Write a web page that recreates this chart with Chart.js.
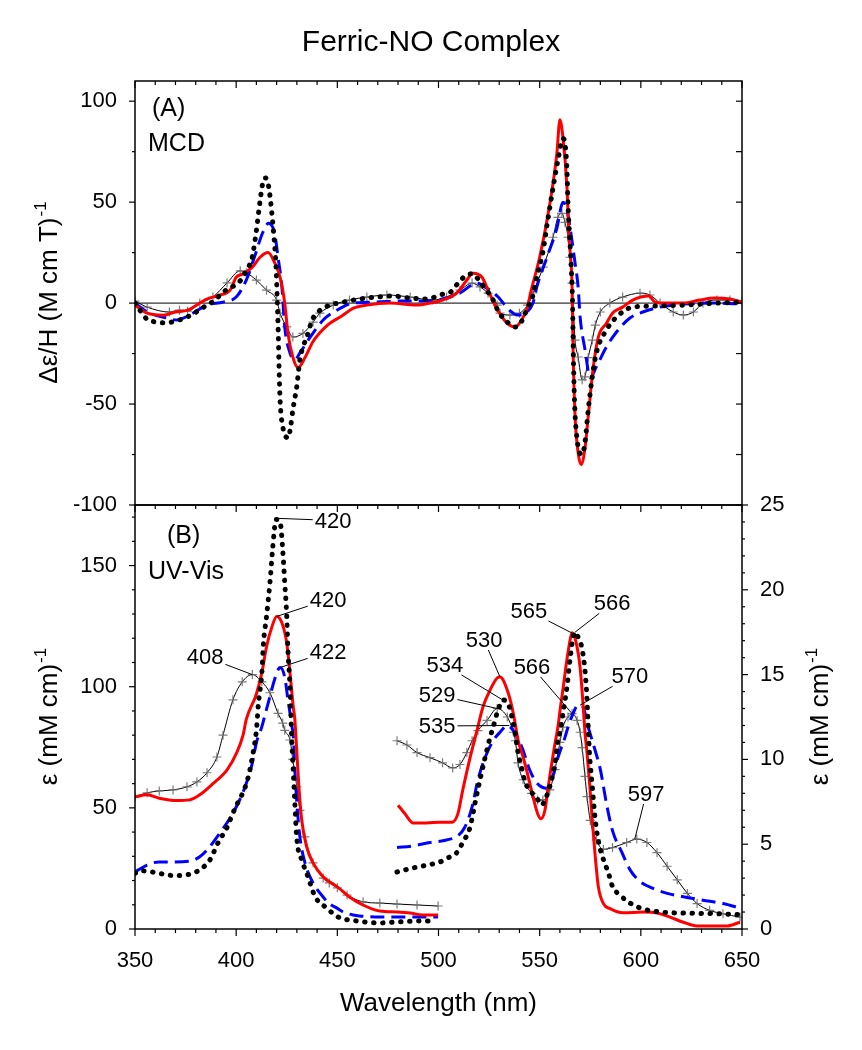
<!DOCTYPE html>
<html>
<head>
<meta charset="utf-8">
<script src="https://cdn.jsdelivr.net/npm/chart.js@4.4.1/dist/chart.umd.min.js"></script>
<style>
  html, body { margin: 0; padding: 0; background: #fff; }
  #wrap { position: relative; width: 862px; height: 1050px; }
  #wrap canvas { position: absolute; left: 0; top: 0; }
</style>
</head>
<body>
<div id="wrap">
  <canvas id="mcd" width="862" height="1050"></canvas>
  <canvas id="uv" width="862" height="1050"></canvas>
</div>
<script>
// ---- data: [wavelength nm, value] ----
// (A) MCD, Δε/H
const mcdDots = [[350,0],[356,-8],[361,-9.4],[365,-9.8],[370,-8.9],[376,-6.8],[385.5,-1],[389.5,1.5],[393.5,5.4],[398,8],[402,11],[405,16],[408,23],[410,36],[412,52],[413.5,61],[414.5,62],[416,58],[417.5,46],[418.4,36],[419.7,18],[420.3,1.5],[420.8,-15],[421.2,-32],[421.7,-48],[423,-61],[425.8,-66.7],[426.8,-62],[428,-53],[430,-41],[431.5,-28],[433,-21.7],[435,-16.7],[437.5,-8.4],[440.5,-4.4],[444,-2],[448,-0.5],[453,0.5],[461,2],[469.5,3],[477.5,3.5],[486,2.5],[494,2],[502,4.4],[506,5.5],[509.6,9.8],[514,14],[517,14.5],[520.5,10.5],[524,6],[527,1.5],[529.5,-4],[534,-9.4],[538,-11.8],[542,-7.4],[544,-2],[546,1.5],[548.6,13],[551.7,26],[554,41],[556.6,57],[559,70.6],[561.5,81.5],[562.5,79],[563.5,65.7],[564,49],[565,29.6],[566,8],[566.3,-2],[566.6,-23],[567.2,-48],[568.5,-67.6],[571,-75],[572.4,-69],[574,-53],[576,-36.5],[578,-24.7],[583,-13.3],[588,-6.9],[596,-2],[606,-1.5],[621,-1],[637.6,0],[650,0.5]]
const mcdRed = [[350,-1],[356,-5],[364,-6],[370,-4.4],[376,-3.5],[385.5,2],[392,4],[397,6.4],[400,12.8],[403,14.3],[408,17.8],[411.8,22.7],[415.8,25],[419,20],[421.7,12.8],[424,0],[425.6,-15],[428,-26.7],[430.6,-32],[434,-27],[438,-19],[445,-11],[452,-6.5],[458,-2.5],[464.6,-1],[476,0],[489,-1],[495.8,0],[502,1.5],[509,4.9],[514,11.4],[517,14.8],[521.5,12.8],[524.5,6.4],[529,-3],[534,-10],[538,-11.8],[541,-8.4],[544,-2],[545.5,5],[550,22.7],[555,49],[558.5,74],[560,90.8],[561.5,82],[563.5,57],[564.5,32.6],[566,8],[566.5,-23],[567.5,-56],[569,-74],[570.5,-80],[572.5,-71],[574,-56],[576.5,-31.6],[579,-16.8],[583,-10],[586,-5],[591,-2],[596,1.5],[600,3],[604,3.5],[607,0.5],[611,0],[621,0],[629,1.5],[636.6,2.5],[644,2],[650,0.5]]
const mcdBlue = [[350,0],[356,-4.4],[365.8,-7.4],[370.7,-8.4],[377,-5.9],[385.6,-1],[393.5,0.5],[400,3],[405,11.4],[409,22.7],[413,34.6],[416,39.5],[419,34.6],[420.7,22.7],[422.6,8],[424,-11.8],[426.6,-24.7],[429,-28],[431.5,-24.7],[435.6,-18.3],[443,-8.4],[449.8,-3.5],[457.7,0],[469.6,0.5],[481,1],[492,1],[502,2],[510.6,5],[516.5,9],[519,10],[522,8.5],[525.5,6.4],[529.5,3],[532,0],[535,-3.5],[539,-5.9],[543.7,-4.4],[546.7,0],[548.6,8],[553.6,22.7],[558.6,37.5],[561.5,50],[563.5,46],[565,37.5],[567.5,19.8],[569,8],[570,-6.9],[572.4,-23],[575,-37],[578,-31.6],[583,-21.7],[588,-14.3],[594.6,-7.4],[601,-4.4],[609.5,-2],[621,-0.5],[637.6,0],[650,-0.5]]
const mcdGray = [[350,1],[356,-2],[367,-4.4],[372,-3.5],[376,-4],[382,0],[388.5,3],[395.5,10],[402,16],[405,15],[410,11.4],[415,6.4],[420,1.5],[421.7,-5],[425,-11.8],[428,-16.8],[433,-15],[438,-9.4],[441.4,-5],[448,-1],[456,1.5],[464.6,3],[474.5,4],[486,3],[497,1.5],[504,3],[510.6,6.4],[516.6,9.9],[520.5,8],[524.5,4.9],[529,-1],[530.4,-5],[535.3,-5.9],[540,-5],[544,-1],[546.7,5],[551.7,17.8],[556.6,32.6],[559,42.5],[561,44.4],[562.5,40],[564,32.6],[565,22.7],[566,9.9],[567.5,-18.3],[569,-26.7],[571,-38],[572.4,-36.5],[574,-27],[576,-18.3],[577.5,-10.9],[580,-4.4],[584.7,0],[591,3],[599.6,4.9],[604.5,4],[609.5,0],[616,-4.4],[621,-5.9],[626,-4.4],[630.7,0],[637.6,1.5],[644,1.5],[650,0.5]]

// (B) UV-Vis, Soret region (left axis)
const uvDotsSoret = [[350,23],[354,24],[358,23.6],[362,23],[366,22.3],[370.6,22],[374.7,22.3],[378.7,23],[383,25],[387,28.5],[391,35.5],[395.5,42],[398.5,48],[401,52.5],[403.5,56.6],[406,62.8],[408,71],[410,82],[411,93],[412.7,105.8],[413.5,118],[415,129],[416.7,143],[418,156.6],[419.7,169],[421.7,168],[423,156.6],[424,143],[425,129],[425.6,115],[426.6,100],[427.4,79.5],[428.2,65.7],[429,52],[429.9,38],[432.4,28.5],[434.9,23],[439,13.4],[444.7,8.7],[450.3,5],[459.7,3.3],[471,2.5],[479.5,2.9],[492,3.3],[497,3.3]]
const uvRedSoret = [[350,54.5],[356,55.4],[362,54],[370.6,53],[377,53.3],[382,55.4],[388.5,60],[395.5,65.7],[400.4,73],[403.4,80],[405,86.5],[410,97],[412.7,105.8],[415,116.5],[417.7,124.8],[420,129],[422.6,126.4],[425,118],[426.6,105.8],[428.2,91.8],[429,86.4],[430,72.7],[431,58.7],[432.4,45],[434.8,34],[438,27.3],[443,21.5],[450,17.4],[456,13.2],[462.7,9.9],[471,7.4],[479.5,7],[486,6.6],[492,5.8],[499.8,5.8]]
const uvBlueSoret = [[350,23.6],[356,26.4],[362,27.7],[368.8,27.7],[377,28],[382,29.8],[387,34],[392,39.7],[397,45.8],[401,52],[404.4,58.7],[408,68.6],[410,76.9],[412.7,83.5],[414,87.6],[416.7,96],[419,103],[421.7,107.9],[424,104],[425.6,94.6],[427.6,83.5],[428.3,79],[429,65.7],[430,52],[431.5,38],[434,27.3],[438,19],[443,13.2],[446,10.5],[450,8.5],[453,7],[457.8,5.8],[461,5.4],[471,5],[482.5,5],[491,5],[499.8,5]]
const uvGraySoret = [[350,54.5],[356,56.2],[362,57],[368.8,57.4],[375.7,58.7],[380.6,60.7],[385.6,64.5],[390.5,71],[393.5,80],[398.4,94.6],[403,102],[408,105],[412.7,102],[416.7,97.5],[420.7,89],[423,85],[424,82],[426.6,78],[428,70],[430,58.7],[431.5,49],[434,38],[438,27.3],[443,21],[446,19],[450,17],[454.8,14],[462.7,11.2],[471,10.7],[479.5,10.3],[489.4,9.9],[499.8,9.5]]

// (B) UV-Vis, visible region (right axis)
const uvDotsVis = [[479.5,3.36],[487.4,3.6],[495.8,3.8],[500.7,3.95],[504.7,4.2],[509,4.5],[512,5.1],[515.6,6],[518,7.4],[520.5,8.8],[523,10.1],[525.5,11.3],[527,11.9],[529.4,12.9],[532,13.5],[535,13.1],[537.8,11.6],[539.3,10.4],[541.3,9.4],[542.7,8.7],[545,8.2],[548.7,7.7],[551,7.3],[552.6,7.6],[555,8.4],[557.6,9.8],[559,11.1],[560,11.6],[561.5,12.7],[563.5,14.3],[565,15.9],[566.5,17.2],[567.5,17.5],[569,17.2],[571,16.5],[572.5,15.1],[573.4,13.5],[574,11.9],[574.6,10.4],[576,8.4],[577.5,6.4],[579,5.2],[581.5,4.1],[584,3.3],[586,2.5],[589.7,2],[593.7,1.6],[599.6,1.24],[609.5,1],[621,0.94],[637.6,0.9],[648,0.85]]
const uvRedVis = [[480,7.3],[483.4,6.8],[487.5,6.25],[494,6.25],[500.7,6.3],[506.7,6.3],[509.6,6.8],[512,8.2],[515.6,10.1],[519,11.7],[522,13.1],[525.5,14.1],[529,14.8],[530.4,14.86],[534.5,13.9],[537,12.7],[539.4,11.1],[541.9,10.1],[544.3,9],[546.7,7.8],[549,6.8],[550.6,6.5],[552.6,7],[554,8.2],[555.5,9.4],[557.3,10.75],[559,11.9],[560.3,13.1],[561.7,14.3],[563,15.5],[564.2,16.45],[565.3,17.2],[566.1,17.47],[568,16.9],[570,15.4],[571.3,13.5],[572.4,11.6],[573.4,10.4],[574.8,8.4],[576,6.4],[577.3,4.5],[579,2.5],[581.5,1.5],[584.8,1.2],[591.3,0.96],[601,1],[608,0.94],[614.4,0.7],[621,0.4],[627.8,0.18],[634,0.18],[642.6,0.18],[649,0.4]]
const uvBlueVis = [[479.5,4.8],[487.4,4.9],[495.8,5.1],[504,5.25],[509.6,5.5],[513,6],[516.6,7.2],[519.5,8.8],[523,10.1],[527,11.1],[530.4,11.6],[534,12],[537,11.7],[541.3,10.7],[545,9.4],[548.7,8.6],[553.6,8.3],[556,8.8],[559,10.1],[562.5,11.3],[564,11.9],[566.5,12.7],[569,13.2],[571.4,13.1],[574,11.9],[577,10.7],[580,9.4],[583,7.4],[586,5.8],[590.7,4.5],[594.6,3.5],[599.6,2.8],[606,2.4],[613,2.1],[621,1.9],[630.7,1.7],[640.6,1.5],[649,1.24]]
const uvGrayVis = [[479.5,11.1],[484.4,10.85],[489.4,10.4],[495.8,10.1],[502,9.8],[507,9.5],[510.6,9.7],[514,10.4],[516.6,11.1],[519.5,11.7],[524,12.3],[529,13],[534,12.5],[537,11.6],[538,11.1],[539.3,9.8],[541.8,8.8],[546,8],[549,7.6],[551.6,7.6],[555,8.2],[557.6,9.4],[560,11],[561.5,11.9],[564,12.5],[566,12.7],[568.5,12.3],[570,11.6],[571,10.7],[572.4,9],[573.4,7.8],[575,6.4],[578,5.25],[581.5,4.7],[586,4.8],[593,5.1],[598,5.3],[603,5.1],[608,4.5],[613,3.7],[618,2.9],[623,2.1],[627.8,1.5],[634,1.1],[640.6,0.9],[649,0.7]]

// tick labels
const wlTicks = [350, 400, 450, 500, 550, 600, 650]
const mcdTicks = [-100, -50, 0, 50, 100]
const soretTicks = [0, 50, 100, 150]
const visTicks = [0, 5, 10, 15, 20, 25]

// peak labels: point (x,y) and label centre (tx,ty), both in data units
const soretPeaks = [
  { text: '420', x: 420.3, y: 169.5, tx: 447.9, ty: 168.6 },
  { text: '420', x: 420, y: 129, tx: 445.4, ty: 136 },
  { text: '422', x: 422, y: 108, tx: 445.4, ty: 114.5 },
  { text: '408', x: 408, y: 105, tx: 384.6, ty: 112.4 },
]
const visPeaks = [
  { text: '565', x: 566, y: 17.45, tx: 544.7, ty: 18.75 },
  { text: '566', x: 567.5, y: 17.5, tx: 585.8, ty: 19.2 },
  { text: '530', x: 530.4, y: 14.86, tx: 522.5, ty: 17.04 },
  { text: '534', x: 532.5, y: 13.45, tx: 503.2, ty: 15.57 },
  { text: '529', x: 529, y: 13.0, tx: 499.3, ty: 13.8 },
  { text: '535', x: 535, y: 12.0, tx: 499.3, ty: 11.97 },
  { text: '566', x: 566, y: 12.7, tx: 546.2, ty: 15.45 },
  { text: '570', x: 570, y: 13.2, tx: 594.6, ty: 14.9 },
  { text: '597', x: 597, y: 5.3, tx: 602.6, ty: 7.96 },
]

const FONT = '"Liberation Sans", Arial, sans-serif'
Chart.defaults.font.family = FONT
Chart.defaults.font.size = 22
Chart.defaults.color = '#000'

// line styles for the four samples
const styles = {
  dots: { borderColor: '#000', borderWidth: 5, borderDash: [0.5, 8.5], borderCapStyle: 'round', pointRadius: 0, order: 0 },
  red: { borderColor: '#ff0000', borderWidth: 3, pointRadius: 0, order: 1 },
  blue: { borderColor: '#0000ff', borderWidth: 3, borderDash: [14, 7], pointRadius: 0, order: 2 },
  gray: { borderColor: '#000', borderWidth: 1, pointStyle: 'cross', pointRadius: 4.5, pointBorderWidth: 1.2, pointBorderColor: 'rgba(110,110,110,0.9)', order: 3 },
}
const ds = (data, style, yAxisID) => ({ data, yAxisID, cubicInterpolationMode: 'monotone', fill: false, ...styles[style] })

// frame, inward/outward ticks, text labels
const decor = {
  id: 'decor',
  beforeDatasetsDraw(chart, args, opts) {
    if (!opts.zeroLine) return
    const { ctx, chartArea: a } = chart
    const y = chart.scales.y.getPixelForValue(0)
    ctx.save()
    ctx.strokeStyle = '#000'
    ctx.lineWidth = 1
    ctx.beginPath(); ctx.moveTo(a.left, y); ctx.lineTo(a.right, y); ctx.stroke()
    ctx.restore()
  },
  afterDraw(chart, args, opts) {
    const { ctx, chartArea: a } = chart
    ctx.save()
    ctx.strokeStyle = '#000'
    ctx.lineWidth = 1.5
    ctx.strokeRect(a.left, a.top, a.right - a.left, a.bottom - a.top)

    ctx.lineWidth = 1.2
    for (const m of opts.marks || []) {
      const s = chart.scales[m.scale]
      const sign = m.out ? 1 : -1
      for (let v = Math.ceil(s.min / m.minor) * m.minor; v <= s.max + 1e-9; v += m.minor) {
        const isMajor = Math.abs(v / m.major - Math.round(v / m.major)) < 1e-6
        const len = isMajor ? m.long : m.short
        const p = s.getPixelForValue(v)
        ctx.beginPath()
        if (m.edge === 'left') { ctx.moveTo(a.left, p); ctx.lineTo(a.left - sign * len, p) }
        if (m.edge === 'right') { ctx.moveTo(a.right, p); ctx.lineTo(a.right + sign * len, p) }
        if (m.edge === 'top') { ctx.moveTo(p, a.top); ctx.lineTo(p, a.top - sign * len) }
        if (m.edge === 'bottom') { ctx.moveTo(p, a.bottom); ctx.lineTo(p, a.bottom + sign * len) }
        ctx.stroke()
      }
    }

    ctx.fillStyle = '#000'
    ctx.textBaseline = 'middle'
    for (const t of opts.texts || []) {
      ctx.font = `${t.size}px ${FONT}`
      ctx.textAlign = 'left'
      ctx.fillText(t.text, a.left + t.dx, a.top + t.dy)
    }

    // y axis titles with superscript, reading bottom to top
    const midY = (a.top + a.bottom) / 2
    for (const t of opts.titles || []) {
      const size = 26, sup = 17
      ctx.save()
      ctx.translate(t.left, midY)
      ctx.rotate(-Math.PI / 2)
      ctx.font = `${size}px ${FONT}`
      const w1 = ctx.measureText(t.text).width
      ctx.font = `${sup}px ${FONT}`
      const w2 = ctx.measureText(t.sup).width
      const x0 = -(w1 + w2) / 2
      ctx.textAlign = 'left'
      ctx.font = `${size}px ${FONT}`
      ctx.fillText(t.text, x0, 0)
      ctx.font = `${sup}px ${FONT}`
      ctx.fillText(t.sup, x0 + w1 + 1, -9)
      ctx.restore()
    }

    // peak labels with leader lines
    ctx.font = `22px ${FONT}`
    ctx.textAlign = 'center'
    ctx.lineWidth = 1
    for (const set of opts.peaks || []) {
      const xs = chart.scales.x, ys = chart.scales[set.axis]
      for (const n of set.items) {
        const px = xs.getPixelForValue(n.x), py = ys.getPixelForValue(n.y)
        const tx = xs.getPixelForValue(n.tx), ty = ys.getPixelForValue(n.ty)
        const hw = ctx.measureText(n.text).width / 2 + 2, hh = 10
        const dx = tx - px, dy = ty - py
        const k = 1 - Math.min(dx ? hw / Math.abs(dx) : 1e9, dy ? hh / Math.abs(dy) : 1e9)
        ctx.beginPath()
        ctx.moveTo(px, py)
        ctx.lineTo(px + dx * k, py + dy * k)
        ctx.stroke()
        ctx.fillText(n.text, tx, ty + 1)
      }
    }
    ctx.restore()
  },
}

const fixWidth = w => s => { s.width = w; s.paddingTop = 0; s.paddingBottom = 0 }
const useTicks = list => s => { s.ticks = list.map(value => ({ value })) }

// ---- (A) MCD ----
new Chart(document.getElementById('mcd'), {
  type: 'line',
  data: {
    datasets: [
      ds(mcdDots, 'dots', 'y'),
      ds(mcdRed, 'red', 'y'),
      ds(mcdBlue, 'blue', 'y'),
      ds(mcdGray, 'gray', 'y'),
    ],
  },
  options: {
    responsive: false,
    animation: false,
    devicePixelRatio: 1,
    layout: { padding: { left: 0, right: 0, top: 0, bottom: 545 } },
    scales: {
      x: { type: 'linear', min: 350, max: 650, display: false },
      y: {
        min: -100, max: 110,
        afterBuildTicks: useTicks(mcdTicks),
        afterFit: fixWidth(135),
        grid: { display: false, drawTicks: false },
        border: { display: false },
        ticks: { padding: 18 },
      },
      yr: {
        position: 'right', min: 0, max: 1,
        afterFit: fixWidth(120),
        grid: { display: false, drawTicks: false },
        border: { display: false },
        ticks: { display: false },
      },
    },
    plugins: {
      legend: { display: false },
      tooltip: { enabled: false },
      title: {
        display: true,
        text: 'Ferric-NO Complex',
        font: { size: 30, weight: 'normal' },
        color: '#000',
        padding: { top: 25, bottom: 20 },
      },
      decor: {
        zeroLine: true,
        marks: [
          { scale: 'y', edge: 'left', out: true, minor: 25, major: 50, short: 3, long: 6 },
          { scale: 'y', edge: 'right', out: false, minor: 25, major: 50, short: 6, long: 6 },
          { scale: 'x', edge: 'top', out: false, minor: 10, major: 50, short: 4, long: 7 },
        ],
        texts: [
          { text: '(A)', dx: 17, dy: 28, size: 25 },
          { text: 'MCD', dx: 13, dy: 63, size: 25 },
        ],
        titles: [{ text: 'Δε/H (M cm T)', sup: '-1', left: 50 }],
      },
    },
  },
  plugins: [decor],
})

// ---- (B) UV-Vis ----
new Chart(document.getElementById('uv'), {
  type: 'line',
  data: {
    datasets: [
      ds(uvDotsSoret, 'dots', 'y'),
      ds(uvRedSoret, 'red', 'y'),
      ds(uvBlueSoret, 'blue', 'y'),
      ds(uvGraySoret, 'gray', 'y'),
      ds(uvDotsVis, 'dots', 'y2'),
      ds(uvRedVis, 'red', 'y2'),
      ds(uvBlueVis, 'blue', 'y2'),
      ds(uvGrayVis, 'gray', 'y2'),
    ],
  },
  options: {
    responsive: false,
    animation: false,
    devicePixelRatio: 1,
    layout: { padding: { left: 0, right: 0, top: 505, bottom: 0 } },
    scales: {
      x: {
        type: 'linear', min: 350, max: 650,
        afterBuildTicks: useTicks(wlTicks),
        afterFit: s => { s.height = 121; s.paddingLeft = 0; s.paddingRight = 0 },
        grid: { display: false, drawTicks: false },
        border: { display: false },
        ticks: { padding: 19, maxRotation: 0, autoSkip: false },
        title: { display: true, text: 'Wavelength (nm)', font: { size: 26 }, padding: { top: 0, bottom: 31 } },
      },
      y: {
        min: 0, max: 175,
        afterBuildTicks: useTicks(soretTicks),
        afterFit: fixWidth(135),
        grid: { display: false, drawTicks: false },
        border: { display: false },
        ticks: { padding: 18 },
      },
      y2: {
        position: 'right', min: 0, max: 25,
        afterBuildTicks: useTicks(visTicks),
        afterFit: fixWidth(120),
        grid: { display: false, drawTicks: false },
        border: { display: false },
        ticks: { padding: 18 },
      },
    },
    plugins: {
      legend: { display: false },
      tooltip: { enabled: false },
      decor: {
        marks: [
          { scale: 'y', edge: 'left', out: true, minor: 10, major: 50, short: 3, long: 6 },
          { scale: 'y2', edge: 'right', out: true, minor: 1, major: 5, short: 3, long: 6 },
          { scale: 'x', edge: 'top', out: false, minor: 10, major: 50, short: 4, long: 7 },
          { scale: 'x', edge: 'bottom', out: true, minor: 10, major: 50, short: 4, long: 7 },
        ],
        texts: [
          { text: '(B)', dx: 32, dy: 31, size: 25 },
          { text: 'UV-Vis', dx: 13, dy: 67, size: 25 },
        ],
        titles: [
          { text: 'ε (mM cm)', sup: '-1', left: 50 },
          { text: 'ε (mM cm)', sup: '-1', left: 821 },
        ],
        peaks: [
          { axis: 'y', items: soretPeaks },
          { axis: 'y2', items: visPeaks },
        ],
      },
    },
  },
  plugins: [decor],
})
</script>
</body>
</html>
